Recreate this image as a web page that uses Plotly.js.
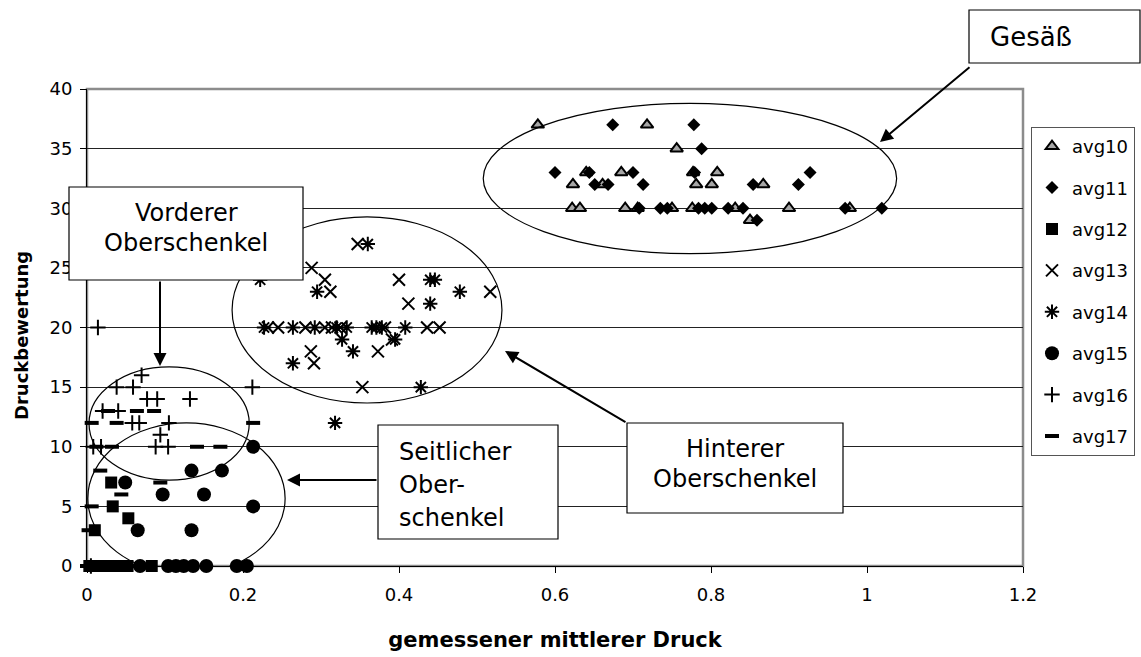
<!DOCTYPE html>
<html>
<head>
<meta charset="utf-8">
<script src="https://cdn.plot.ly/plotly-3.0.1.min.js"></script>
<style>
  html, body { margin: 0; padding: 0; background: #ffffff; }
  #chart { width: 1141px; height: 657px; }
</style>
</head>
<body>
<div id="chart"></div>
<script>
// ---- Data ----
const seriesNames = ["avg10", "avg11", "avg12", "avg13", "avg14", "avg15", "avg16", "avg17"];

const avg10_x = [0.578, 0.718, 0.756, 0.640, 0.685, 0.777, 0.808, 0.623, 0.661, 0.781, 0.801, 0.867, 0.622, 0.632, 0.690, 0.706, 0.750, 0.776, 0.831, 0.900, 0.978, 0.850];
const avg10_y = [37, 37, 35, 33, 33, 33, 33, 32, 32, 32, 32, 32, 30, 30, 30, 30, 30, 30, 30, 30, 30, 29];

const avg11_x = [0.674, 0.778, 0.788, 0.600, 0.644, 0.700, 0.779, 0.927, 0.651, 0.668, 0.713, 0.854, 0.912, 0.708, 0.735, 0.744, 0.784, 0.792, 0.801, 0.822, 0.841, 0.972, 1.019, 0.859];
const avg11_y = [37, 37, 35, 33, 33, 33, 33, 33, 32, 32, 32, 32, 32, 30, 30, 30, 30, 30, 30, 30, 30, 30, 30, 29];

const avg12_x = [0.031, 0.033, 0.053, 0.010, 0.003, 0.012, 0.022, 0.032, 0.042, 0.052, 0.083];
const avg12_y = [7, 5, 4, 3, 0, 0, 0, 0, 0, 0, 0];

const avg13_x = [0.347, 0.288, 0.305, 0.312, 0.400, 0.517, 0.412, 0.232, 0.245, 0.280, 0.305, 0.314, 0.325, 0.382, 0.436, 0.452, 0.391, 0.373, 0.287, 0.291, 0.353];
const avg13_y = [27, 25, 24, 23, 24, 23, 22, 20, 20, 20, 20, 20, 20, 20, 20, 20, 19, 18, 18, 17, 15];

const avg14_x = [0.360, 0.295, 0.440, 0.446, 0.478, 0.440, 0.222, 0.227, 0.264, 0.292, 0.320, 0.333, 0.365, 0.371, 0.378, 0.408, 0.327, 0.395, 0.341, 0.264, 0.428, 0.318];
const avg14_y = [27, 23, 24, 24, 23, 22, 24, 20, 20, 20, 20, 20, 20, 20, 20, 20, 19, 19, 18, 17, 15, 12];

const avg15_x = [0.213, 0.134, 0.173, 0.049, 0.097, 0.150, 0.213, 0.065, 0.134, 0.068, 0.104, 0.114, 0.124, 0.136, 0.153, 0.192, 0.205];
const avg15_y = [10, 8, 8, 7, 6, 6, 5, 3, 3, 0, 0, 0, 0, 0, 0, 0, 0];

const avg16_x = [0.014, 0.070, 0.038, 0.059, 0.077, 0.090, 0.132, 0.212, 0.020, 0.040, 0.058, 0.067, 0.105, 0.094, 0.088, 0.104, 0.008, 0.018, 0.005];
const avg16_y = [20, 16, 15, 15, 14, 14, 14, 15, 13, 13, 12, 12, 12, 11, 10, 10, 10, 10, 0];

const avg17_x = [0.006, 0.027, 0.064, 0.086, 0.038, 0.213, 0.032, 0.141, 0.171, 0.017, 0.094, 0.044, 0.006, 0.002, 0.012, 0.000, 0.020, 0.045, 0.062, 0.070];
const avg17_y = [12, 13, 13, 13, 12, 12, 10, 10, 10, 8, 7, 6, 5, 3, 10, 0, 0, 0, 0, 0];

const xTickVals = [0, 0.2, 0.4, 0.6, 0.8, 1, 1.2];
const xTickText = ["0", "0.2", "0.4", "0.6", "0.8", "1", "1.2"];
const yTickVals = [0, 5, 10, 15, 20, 25, 30, 35, 40];

const xTitle = "gemessener mittlerer Druck";
const yTitle = "Druckbewertung";

// ---- Styles ----
const FONT = "DejaVu Sans, Arial, sans-serif";
const markerStyles = [
  {symbol: "triangle-up", size: 11, color: "#a6a6a6", line: {color: "#000", width: 2}},
  {symbol: "diamond", size: 10, color: "#000", line: {color: "#000", width: 0}},
  {symbol: "square", size: 12, color: "#000", line: {color: "#000", width: 0}},
  {symbol: "x-thin-open", size: 12, color: "#000", line: {color: "#000", width: 2}},
  {symbol: "asterisk-open", size: 12, color: "#000", line: {color: "#000", width: 2}},
  {symbol: "circle", size: 14, color: "#000", line: {color: "#000", width: 0}},
  {symbol: "cross-thin-open", size: 11, color: "#000", line: {color: "#000", width: 2}},
  {symbol: "line-ew-open", size: 10, color: "#000", line: {color: "#000", width: 4}}
];
const xs = [avg10_x, avg11_x, avg12_x, avg13_x, avg14_x, avg15_x, avg16_x, avg17_x];
const ys = [avg10_y, avg11_y, avg12_y, avg13_y, avg14_y, avg15_y, avg16_y, avg17_y];

const traces = seriesNames.map((name, i) => ({
  type: "scatter",
  mode: "markers",
  name: name,
  legendgroup: name,
  x: xs[i],
  y: ys[i],
  cliponaxis: false,
  marker: markerStyles[i]
}));

// pixel helpers for decorations (paper coords)
const FW = 1141, FH = 657;
const L = 87, T = 89, W = 936, H = 477;
const px = v => (v - L) / W;
const py = v => (T + H - v) / H;

function box(x0, y0, x1, y1) {
  return {type: "rect", xref: "paper", yref: "paper", x0: px(x0), x1: px(x1), y0: py(y1), y1: py(y0),
          fillcolor: "#ffffff", line: {color: "#000", width: 1.2}, layer: "above"};
}
function ell(x0, x1, y0, y1) {
  return {type: "circle", xref: "x", yref: "y", x0: x0, x1: x1, y0: y0, y1: y1,
          line: {color: "#000", width: 1.2}, layer: "above"};
}
function txt(text, x, y, anchor, size) {
  return {xref: "paper", yref: "paper", x: px(x), y: py(y), text: text, showarrow: false,
          xanchor: anchor, yanchor: "middle", font: {family: FONT, size: size || 24, color: "#000"}};
}
function arrow(hx, hy, tx, ty) {
  return {xref: "paper", yref: "paper", x: px(hx), y: py(hy), ax: tx - hx, ay: ty - hy, text: "",
          showarrow: true, arrowhead: 2, arrowsize: 1.3, arrowwidth: 2, arrowcolor: "#000", standoff: 0};
}

const shapes = [
  // plot frame (gray)
  {type: "rect", xref: "paper", yref: "paper", x0: 0, x1: 1, y0: 0, y1: 1, line: {color: "#8c8c8c", width: 2.5}, layer: "below"},
  ell(0.508, 1.038, 26.2, 38.8),
  ell(0.186, 0.532, 13.67, 29.27),
  ell(0.0026, 0.208, 7.2, 16.7),
  ell(0.001, 0.254, -0.67, 12.0),
  box(969, 10, 1140, 63),
  box(69, 187, 303, 280),
  box(378, 425, 558, 539),
  box(627, 423, 843, 513)
];

const annotations = [
  txt("Gesäß", 988, 37, "left", 26),
  txt("Vorderer", 186, 213, "center"),
  txt("Oberschenkel", 186, 243, "center"),
  txt("Seitlicher", 397, 452, "left"),
  txt("Ober-", 397, 485, "left"),
  txt("schenkel", 397, 518, "left"),
  txt("Hinterer", 735, 449, "center"),
  txt("Oberschenkel", 735, 479, "center"),
  arrow(880, 142, 971, 66),
  arrow(160, 366, 160, 280),
  arrow(287, 480, 378, 480),
  arrow(505, 351, 627, 423),
  // y axis title
  {xref: "paper", yref: "paper", x: px(21), y: py(336), text: "<b>" + yTitle + "</b>", textangle: -90,
   showarrow: false, xanchor: "center", yanchor: "middle", font: {family: FONT, size: 18, color: "#000"}}
];

const layout = {
  width: FW, height: FH,
  margin: {l: L, r: FW - L - W, t: T, b: FH - T - H, pad: 0},
  paper_bgcolor: "#ffffff", plot_bgcolor: "#ffffff",
  font: {family: FONT, color: "#000"},
  showlegend: true,
  legend: {
    xref: "container", yref: "container",
    x: 1031 / FW, y: 1 - 127 / FH, xanchor: "left", yanchor: "top",
    bgcolor: "#ffffff", bordercolor: "#555", borderwidth: 1,
    font: {family: FONT, size: 18, color: "#000"},
    tracegroupgap: 15, traceorder: "grouped", itemwidth: 30
  },
  xaxis: {
    range: [0, 1.2], tickvals: xTickVals, ticktext: xTickText,
    showgrid: false, zeroline: false,
    showline: true, linecolor: "#000", linewidth: 1,
    ticks: "outside", ticklen: 6, tickcolor: "#000",
    tickfont: {family: FONT, size: 18, color: "#000"}, ticklabelstandoff: 6,
    title: {text: xTitle, font: {family: FONT, size: 21, color: "#000", weight: "bold"}, standoff: 28},
    automargin: false, fixedrange: true
  },
  yaxis: {
    range: [0, 40], tickvals: yTickVals,
    showgrid: true, gridcolor: "#222", gridwidth: 1, zeroline: false,
    showline: true, linecolor: "#000", linewidth: 1,
    ticks: "outside", ticklen: 6, tickcolor: "#000",
    tickfont: {family: FONT, size: 18, color: "#000"}, ticklabelstandoff: 4,
    automargin: false, fixedrange: true
  },
  shapes: shapes,
  annotations: annotations
};

Plotly.newPlot("chart", traces, layout, {displayModeBar: false, staticPlot: true});
</script>
</body>
</html>
